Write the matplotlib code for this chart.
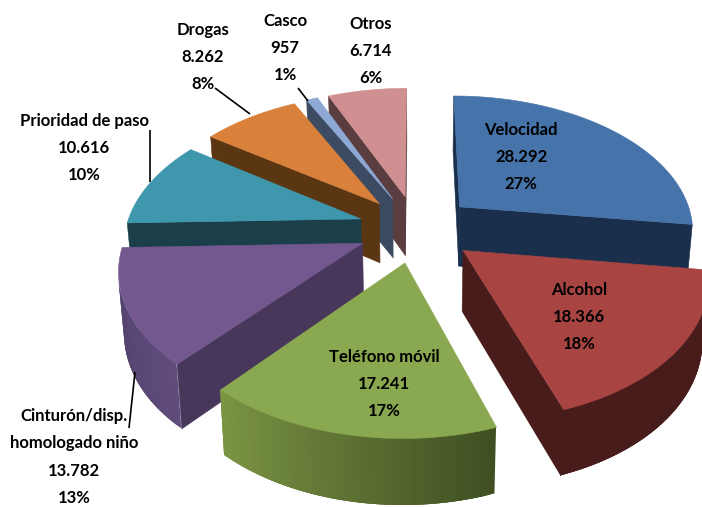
import numpy as np
import matplotlib
matplotlib.use('Agg')
import matplotlib.pyplot as plt
from matplotlib.collections import PolyCollection
from matplotlib.colors import to_rgb

# datos
names = ['Velocidad', 'Alcohol', 'Teléfono móvil', 'Cinturón/disp.\nhomologado niño',
         'Prioridad de paso', 'Drogas', 'Casco', 'Otros']
values = [28292, 18366, 17241, 13782, 10616, 8262, 957, 6714]

# colores: cara superior, pared radial, pared exterior (inicio, fin)
top_col = ['#4673A9', '#A84543', '#8AA84F', '#72588E', '#3F97AE', '#D9813A', '#8FA9D5', '#D09091']
side_col = ['#1A2F4C', '#471C1A', '#3F4F22', '#47375A', '#1B3F4A', '#5B3612', '#3C4A62', '#5A3D3E']
out_a = ['#1A2F4C', '#471C1A', '#3F4F22', '#5F4C7C', '#1B3F4A', '#5B3612', '#3C4A62', '#5A3D3E']
out_b = ['#1A2F4C', '#471C1A', '#7C9544', '#4E3E68', '#1B3F4A', '#5B3612', '#3C4A62', '#5A3D3E']

# orden de dibujo (de atras hacia delante)
order = [7, 6, 5, 4, 3, 2, 0, 1]

# posicion de las etiquetas (pixeles)
label_xy = [(521, 157), (579, 317), (384, 384), (74, 457), (84, 148), (203, 57), (285, 48), (371, 51)]
leaders = [((215, 88), (250, 114)), ((298, 88), (308, 101)), ((150, 130), (150, 182)),
           ((135, 372), (129, 428))]

cx, cy = 416, 228
a, b, k = 235, 135, 0.16
explode = 0.25
depth = 60


def project(x, y, z=0):
    s = 1 / (1 + k * y)
    X = cx + a * x * s * (1 - 0.02 * z)
    Y = cy - b * y * s + depth * z * s ** 0.5
    return X, Y


def area(q):
    q = np.array(q)
    x, y = q[:, 0], q[:, 1]
    return np.sum(x * np.roll(y, -1) - np.roll(x, -1) * y)


fig = plt.figure(figsize=(7.02, 5.07), dpi=100)
ax = fig.add_axes([0, 0, 1, 1])
ax.set_xlim(0, 702)
ax.set_ylim(507, 0)
ax.axis('off')

total = sum(values)
edges = np.cumsum([0] + values) / total * 2 * np.pi

for i in order:
    t1, t2 = edges[i], edges[i + 1]
    mid = (t1 + t2) / 2
    ox, oy = explode * np.sin(mid), explode * np.cos(mid)
    th = np.linspace(t1, t2, 60)
    px = ox + np.sin(th)
    py = oy + np.cos(th)

    top = [project(ox, oy)] + [project(u, v) for u, v in zip(px, py)]
    apex_b = project(ox, oy, 1)
    tip1 = (project(px[0], py[0]), project(px[0], py[0], 1))
    tip2 = (project(px[-1], py[-1]), project(px[-1], py[-1], 1))

    # paredes radiales
    q1 = [top[0], tip1[0], tip1[1], apex_b]
    q2 = [tip2[0], top[0], apex_b, tip2[1]]
    for q in (q1, q2):
        if area(q) < 0:
            ax.add_collection(PolyCollection([q], facecolors=side_col[i], edgecolors=side_col[i],
                                             linewidths=0.4))

    # pared exterior, cada tramo pisa al siguiente para que no se vean las juntas
    c1, c2 = np.array(to_rgb(out_a[i])), np.array(to_rgb(out_b[i]))
    for n in range(len(th) - 1):
        m = min(n + 3, len(th) - 1)
        q = [project(px[n], py[n]), project(px[m], py[m]),
             project(px[m], py[m], 1), project(px[n], py[n], 1)]
        if area(q) < 0:
            col = c1 + (c2 - c1) * n / (len(th) - 2)
            ax.add_collection(PolyCollection([q], facecolors=[col], edgecolors='none'))

    ax.add_collection(PolyCollection([top], facecolors=top_col[i], edgecolors=top_col[i],
                                     linewidths=0.4))

for p, q in leaders:
    ax.plot([p[0], q[0]], [p[1], q[1]], color='black', lw=1.2, solid_capstyle='butt')

for i in range(len(names)):
    val = f'{values[i]:,}'.replace(',', '.')
    pct = f'{values[i] / total * 100:.0f}%'
    txt = names[i] + '\n' + val + '\n' + pct
    ax.text(label_xy[i][0], label_xy[i][1], txt, ha='center', va='center', family='Lato',
            fontweight='bold', fontsize=12, color='black', linespacing=1.88)

fig.savefig('out.png', dpi=100)
